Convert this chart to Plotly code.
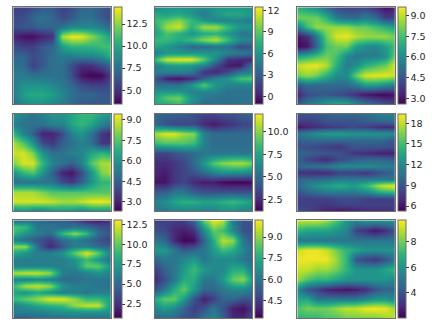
import plotly.graph_objects as go

W, H = 435, 325

panel_1 = [
 [5.5,5.5,6,6.5,6.5,5.5,6,7,7,6.5,6],
 [6,6,7,7.5,7,6,6.5,7.5,7.5,6.5,5.8],
 [6,6.5,6.5,7,7,7.5,8.5,8.5,8.5,8,7],
 [4.5,3.9,3.8,4.5,5,13,14.2,14,12.5,11,9.5],
 [6,5.5,5.5,6.5,7,9.5,10.5,10.5,10.5,11,11],
 [7,7,6,6.5,7.5,8,8,8.5,8.5,9,10.5],
 [7.5,7.2,5.5,6.5,7.5,7.5,6,4.8,5,6,7],
 [8,8,7.5,7.5,7.5,7.5,6,4,3.5,3.6,5.5],
 [8,9,9,9,8.5,7.8,7,6,5.5,5.5,6],
 [8,9.5,10,10,9.5,8.5,7.5,7,7,6.5,6.5],
 [7.5,8.5,9,9,8.5,8,7,6.5,6.5,6.5,6.5],
]
panel_2 = [
 [5,6,6,5.5,5.5,6,6,6,6],
 [7,6.5,7,6,4.5,6,7,7,6],
 [8,9,10,8,6,5,5,5,4.5],
 [7,10.5,11.5,7.5,10.5,10.5,8,6,6],
 [6.5,8.5,7.5,6,7,7.5,6,4.5,4],
 [8,8,7,8,10,11,8,5.5,5],
 [7,6,5,3.5,3.5,4,4,2,2.5],
 [4.5,6,6,6,6,6,5,4.5,4],
 [8,11.5,12,12,9,5,1,0.5,0.3],
 [4.5,6,6.5,6,5,2,0,-0.3,4],
 [5,5,5,4.5,1,0.5,2,4,5],
 [2.5,0,-0.5,0.5,3,5,6,8.5,9],
 [4,4,4,6,9,6,5,5,5],
 [6,6,6,5,5,5,4,4,4],
 [7,9,9.5,6,4.5,4,4,4,4],
 [7,7,8,5.5,3.5,4,3.5,4,4],
]
panel_3 = [
 [7,6.5,6,5,4.2,4,4,4,3.5,2.9,3.2],
 [8,8,8,7,5.5,5,5,5.5,5,3.8,4],
 [5.5,7.5,8.5,8.5,8.5,8.5,8,8,7.5,7,6.5],
 [3,3.5,5.5,8,9.2,9.4,8.8,8.5,8.5,8.5,8],
 [2.7,3,5,7.5,8,8,6.5,6,5.8,6.5,7.5],
 [6.5,7,7.5,8,7.5,6,5.3,5.5,5.5,6,8],
 [9,9.3,9.4,8.8,7,5.5,6,7,7.5,8,9.2],
 [8,8.5,8,7,6,6,8,9.2,9.3,9.3,9],
 [4.5,5,5,5,5,5,5.5,6.5,6.5,6,5.5],
 [3.3,4.3,4.5,4.5,4.3,4,3.5,3,2.8,2.7,3],
 [4.5,5.5,6,6.5,7,7,6,5.5,5,4.5,4],
]
panel_4 = [
 [6,5.5,5,5.5,6,6,6.5,7,7,6.5,6],
 [5.5,5,5,5,5.5,5.5,6.5,7,6.5,5.5,5],
 [7,5.5,4.5,3,3,4,5.5,6,5,3.5,3],
 [8.5,7.5,6,4,3.5,4.5,5,5.5,5,3.5,3.5],
 [8.8,9,8,6,5,5,5.5,5.5,6.5,7,6.5],
 [8,9,9,7,5.5,5,4.5,5.5,7.5,8.5,8.5],
 [6,7,7.5,6,4.5,3,2.7,4,6,8,8.5],
 [5,5,5,5,5,4,3.5,4.5,6,7,7],
 [8.5,8.5,8.5,8,7.5,7.5,7.5,7.5,7.5,7.5,7.5],
 [9,9,9,9,8.8,8.5,8.5,8.8,9.2,9.3,9],
 [5.5,6,5.5,5.5,6,6,6,5.5,6,6,6],
]
panel_5 = [
 [5,4.5,4.5,4.5,4,3.5,3.5,4,4,4.5,5],
 [5,4,3.5,3.5,3.5,2.5,2,2.5,3,3.5,3.5],
 [10.5,11.5,11.5,10.5,10,6,5,5,5,5,5],
 [8.5,9,9,9,8.5,6,5,5,5,5,5],
 [3.5,3.5,4,4.5,5,5.5,5.5,5.5,5.5,5.5,5.5],
 [2.5,2.5,3,3.5,5,7,9,10,10.5,10.5,9.5],
 [2.5,2,3,3.5,4,5,6,6.5,6.5,6.5,6],
 [1.8,1.8,3,3.5,2.5,2,2,1.5,1.3,1.3,1.5],
 [4.5,4.5,5.5,5.5,4.5,4,4,4,4,4,4],
 [6,6.5,7.5,8,8,7.5,7.5,8,8.5,8,7],
 [5.5,5.5,6,6,6,6,6,6.5,6.5,6,6],
]
panel_6 = [
 [9,9,9.5,10,10,10.5,11.5,11.5],
 [8,8,9,9,9,9.5,10,10.5],
 [6,7,7.5,8,8.5,8,7,7],
 [11,12,13,13,12.5,12.5,12.5,12],
 [9.5,10,10,10,10,10,10,9],
 [9,8.5,8,7.5,9,9,9,8.5],
 [10,9.5,9,9,7.5,7,6.5,6.5],
 [9.5,8,7,8.5,9.5,10,10,9.5],
 [10,10.5,11,12,12,12,11.5,11],
 [7.5,7,7,8,8,7.5,9,10],
 [10,10,10.5,11,11,11,11,10.5],
 [10,12,13,14,13,15,18,19],
 [9,10,11,11,11,12,14,14.5],
 [8,8,8,8.5,8.5,8,8,8],
 [8,8,7.5,8,8,8,8,8],
 [9,8,6.5,6,6.5,7,7,7.5],
]
panel_7 = [
 [5,5,5,4.5,4.5,3.5,2,1.5,2.5],
 [9.5,9,5.5,5.5,5,5.5,5,4,3.5],
 [9,7,6,5,9,11,9,5,4],
 [6,5,4,3,5,6,5,4,3],
 [11,11,5,2,4,6,6,5,4.5],
 [8,7,6,6,7,10,12.5,10,6],
 [6,6,6,6,6,7,9,7,5],
 [6,6,6,6,6,6.5,10,10,7],
 [11.5,12,12,11,6,5.5,6,7,6],
 [6,6,6.5,6,5,5,5.5,5.5,5.5],
 [9,11.5,12,11,7,6,6,5.5,5.5],
 [8,7,8,7,6,6,5.5,6,6],
 [9,10,11,12.5,12.5,11,9,9,7.5],
 [6,7,8,8.5,9,11,12,12,7],
 [6,6,6,6.5,7,7,7,7,7],
 [4,4,5,5,5,5.5,5,5,5],
]
panel_8 = [
 [4.5,4.5,4.5,4.5,5.5,8.5,10,9.5,6,5,5],
 [5,4.8,4,3.8,4.2,6.5,8.5,8,6.5,5,4.8],
 [6,5.5,4,3.3,3.4,5.5,7.5,9.5,9,6,5.2],
 [7,7,6,5.2,5.5,6,7,8,7.5,6.5,5.5],
 [5.5,6,6,6.5,7,6,6.5,6.5,6.5,6,5.5],
 [4.5,5.5,6,7,8,7,6.5,6.5,7.5,7.5,6],
 [4,5,6,7.5,7.5,6,6,7,8.5,9,7],
 [5,6,7.5,8.5,7,5.5,5.5,6,6.5,6.5,6],
 [7.5,8.5,8.5,7,5,3.8,4.5,5.5,5.5,5,5],
 [6.5,7,6.5,5.5,4.5,5,6,5,3.8,3.5,4.3],
 [5.5,5.5,5.5,5,5,6,6.5,5.5,4,4,5],
]
panel_9 = [
 [9,9,9,8.5,7.5,6,5.5,6,6,6,6],
 [7,6.5,6.5,6.5,6,5.5,3.5,3,2.4,3,4],
 [5,5,5,5,5,5,5,5,5,5,5],
 [9,9.5,9.5,9,8,7,6.5,6,6,6,6],
 [9.5,9.5,9.5,9.5,8.5,7,4,3.5,3.2,4,5],
 [9,9,8.5,8.5,8,7,6,6,6,6.5,7],
 [8.5,7.5,7,7,6.5,6,6,6,6,6,5.5],
 [5.5,4,3.5,2.8,2.5,2.4,2.6,3,4,4.5,4.5],
 [6.5,6.5,5,5,5,5,5,5.5,6,6,5.5],
 [7.5,8,8,8,8.5,9,9,9.5,9.6,9.4,8.5],
 [7,7,7,7.5,7.5,8,8,8,8,8.5,9],
]
panels = [panel_1, panel_2, panel_3, panel_4, panel_5, panel_6, panel_7, panel_8, panel_9]

z_low  = [3.4, -1.05, 2.57, 2.32, 1.21, 5.28, 0.71, 3.21, 1.99]
z_high = [14.4, 12.4, 9.6, 9.44, 12.0, 19.34, 13.0, 10.2, 9.68]
tick_vals = [
 [5, 7.5, 10, 12.5], [0, 3, 6, 9, 12], [3, 4.5, 6, 7.5, 9],
 [3, 4.5, 6, 7.5, 9], [2.5, 5, 7.5, 10], [6, 9, 12, 15, 18],
 [2.5, 5, 7.5, 10, 12.5], [4.5, 6, 7.5, 9], [4, 6, 8],
]
tick_text = [
 ["5.0", "7.5", "10.0", "12.5"], ["0", "3", "6", "9", "12"], ["3.0", "4.5", "6.0", "7.5", "9.0"],
 ["3.0", "4.5", "6.0", "7.5", "9.0"], ["2.5", "5.0", "7.5", "10.0"], ["6", "9", "12", "15", "18"],
 ["2.5", "5.0", "7.5", "10.0", "12.5"], ["4.5", "6.0", "7.5", "9.0"], ["4", "6", "8"],
]

col_left = [13.3, 154.7, 297.3]
col_width = 97.5
row_top = [7.3, 114.0, 220.3]
row_height = [97.0, 97.3, 98.0]
bar_gap = 3.0
bar_width = 7.5
FRAME = "#6e6e6e"

fig = go.Figure()
layout = {}
for i, z in enumerate(panels):
    c, r = i % 3, i // 3
    left, top, h = col_left[c], row_top[r], row_height[r]
    name = "" if i == 0 else str(i + 1)
    fig.add_trace(go.Heatmap(
        z=z, zmin=z_low[i], zmax=z_high[i], colorscale="Viridis", zsmooth="best",
        xaxis="x" + name, yaxis="y" + name,
        colorbar=dict(
            thickness=bar_width, thicknessmode="pixels",
            len=h / H, lenmode="fraction",
            x=(left + col_width + bar_gap) / W, xanchor="left", xpad=0,
            y=1 - top / H, yanchor="top", ypad=0,
            outlinecolor=FRAME, outlinewidth=1,
            tickmode="array", tickvals=tick_vals[i], ticktext=tick_text[i],
            ticks="outside", ticklen=2.5, tickwidth=0.7, tickcolor="#333",
            tickfont=dict(family="DejaVu Sans", size=9.5, color="#262626"),
        ),
    ))
    layout["xaxis" + name] = dict(
        domain=[left / W, (left + col_width) / W], range=[0, len(z[0]) - 1],
        showticklabels=False, ticks="", showgrid=False, zeroline=False,
        showline=True, mirror=True, linecolor=FRAME, linewidth=1,
        anchor="y" + name,
    )
    layout["yaxis" + name] = dict(
        domain=[1 - (top + h) / H, 1 - top / H], range=[len(z) - 1, 0],
        showticklabels=False, ticks="", showgrid=False, zeroline=False,
        showline=True, mirror=True, linecolor=FRAME, linewidth=1,
        anchor="x" + name,
    )

fig.update_layout(
    width=W, height=H, margin=dict(l=0, r=0, t=0, b=0),
    paper_bgcolor="white", plot_bgcolor="white", showlegend=False, **layout,
)
fig.write_html("out.html", post_script="document.body.style.margin='0';", config={"displayModeBar": False})
